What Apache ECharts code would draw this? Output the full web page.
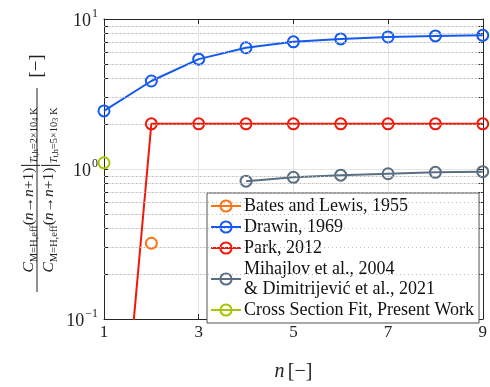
<!DOCTYPE html>
<html><head><meta charset="utf-8">
<script src="https://cdn.jsdelivr.net/npm/echarts@6/dist/echarts.min.js"></script>
<style>html,body{margin:0;padding:0;background:#fff}#c{width:490px;height:387px}</style>
</head><body><div id="c"></div>
<script>
// ---- data ----
const nValues = [1, 2, 3, 4, 5, 6, 7, 8, 9];
const batesN = [2];
const batesVals = [0.32];
const drawinVals = [2.44, 3.86, 5.40, 6.43, 7.04, 7.37, 7.59, 7.71, 7.78];
const parkVals = [0.0006, 2.0, 2.0, 2.0, 2.0, 2.0, 2.0, 2.0, 2.0];
const mihajlovN = [4, 5, 6, 7, 8, 9];
const mihajlovVals = [0.83, 0.88, 0.91, 0.93, 0.95, 0.96];
const fitN = [1];
const fitVals = [1.10];
const xTicks = [1, 3, 5, 7, 9];
const yTickValues = [0.1, 1, 10];
const yTickExponents = ['\u22121', '0', '1'];
const yMinorValues = [0.2, 0.3, 0.4, 0.5, 0.6, 0.7, 0.8, 0.9, 2, 3, 4, 5, 6, 7, 8, 9];
const names = ['Bates and Lewis, 1955', 'Drawin, 1969', 'Park, 2012',
  'Mihajlov et al., 2004\n& Dimitrijevi\u0107 et al., 2021', 'Cross Section Fit, Present Work'];
const colors = ['#FF7214', '#1459F0', '#F01A0A', '#5A6E82', '#A8C400'];

const zip = (xs, ys) => xs.map((x, i) => [x, ys[i]]);
const SERIF = '"Liberation Serif","DejaVu Serif",serif';
const AX = '#262626';

function mk(name, color, data, z) {
  return {
    name, type: 'line', data, z,
    symbol: 'circle', symbolSize: 11, showSymbol: true,
    lineStyle: { color, width: 2 },
    itemStyle: { color: 'rgba(255,255,255,0)', borderColor: color, borderWidth: 2 },
    clip: true, animation: false, emphasis: { disabled: true }
  };
}

const chart = echarts.init(document.getElementById('c'), null, { renderer: 'canvas' });

const yAxisBase = {
  type: 'log', min: 0.1, max: 10, logBase: 10,
  axisLine: { show: true, lineStyle: { color: AX, width: 1 } },
  axisTick: { show: true, inside: true, length: 4, lineStyle: { color: AX },
    customValues: yTickValues.concat(yMinorValues) },
  minorTick: { show: false },
  splitLine: { show: false }
};

const option = {
  animation: false,
  backgroundColor: '#fff',
  grid: { left: 104, right: 2, top: 19, bottom: 62, containLabel: false },
  xAxis: [{
    type: 'value', min: 1, max: 9, interval: 2,
    axisLine: { show: true, onZero: false, lineStyle: { color: AX, width: 1 } },
    axisTick: { show: true, inside: true, length: 5, lineStyle: { color: AX } },
    axisLabel: { color: '#222', fontFamily: SERIF, fontSize: 17, margin: 5,
      formatter: v => xTicks.includes(v) ? String(v) : '' },
    splitLine: { show: true, lineStyle: { color: '#e3e3e3', width: 1 } },
    name: '{i|n} {r|[\u2212]}', nameLocation: 'middle', nameGap: 43,
    nameTextStyle: { rich: {
      i: { fontFamily: SERIF, fontStyle: 'italic', fontSize: 20, color: '#222' },
      r: { fontFamily: SERIF, fontSize: 20, color: '#222' } } }
  }, {
    type: 'value', min: 1, max: 9, interval: 2, position: 'top',
    axisLine: { show: true, onZero: false, lineStyle: { color: AX, width: 1 } },
    axisTick: { show: true, inside: true, length: 5, lineStyle: { color: AX } },
    axisLabel: { show: false }, splitLine: { show: false }
  }],
  yAxis: [Object.assign({}, yAxisBase, {
    position: 'left',
    splitLine: { show: true, lineStyle: { color: '#e3e3e3', width: 1 } },
    axisLabel: {
      margin: 6,
      formatter: v => {
        const i = yTickValues.findIndex(t => Math.abs(t - v) < 1e-9);
        return i < 0 ? '' : '{b|10}{s|' + yTickExponents[i] + '}';
      },
      rich: {
        b: { fontFamily: SERIF, fontSize: 18, color: '#222', lineHeight: 22, verticalAlign: 'bottom' },
        s: { fontFamily: SERIF, fontSize: 12, color: '#222', lineHeight: 22, verticalAlign: 'top', padding: [0, 0, 0, 1] }
      }
    }
  }), Object.assign({}, yAxisBase, {
    position: 'right', axisLabel: { show: false }
  })],
  legend: {
    data: names, orient: 'vertical', left: 207, top: 193,
    padding: [3, 5, 3, 3], itemGap: 1, itemWidth: 30, itemHeight: 14,
    backgroundColor: '#fff', borderColor: '#555', borderWidth: 1, borderRadius: 0,
    textStyle: { fontFamily: SERIF, fontSize: 18, color: '#111', lineHeight: 20, padding: [0, 0, 0, -2] },
    selectedMode: false
  },
  series: [
    {
      name: 'minor', type: 'line', data: [], silent: true, z: 0,
      markLine: {
        silent: true, symbol: ['none', 'none'], animation: false,
        label: { show: false },
        lineStyle: { color: '#bdbdbd', width: 1, type: [1, 3] },
        emphasis: { disabled: true },
        data: yMinorValues.map(v => ({ yAxis: v }))
      }
    },
    mk(names[3], colors[3], zip(mihajlovN, mihajlovVals), 2),
    mk(names[2], colors[2], zip(nValues, parkVals), 3),
    mk(names[1], colors[1], zip(nValues, drawinVals), 4),
    mk(names[0], colors[0], zip(batesN, batesVals), 5),
    mk(names[4], colors[4], zip(fitN, fitVals), 6)
  ],
  graphic: [{
    type: 'group', x: 37, y: 190, rotation: Math.PI / 2,
    children: [
      { type: 'text', x: 0, y: -8, style: {
          text: '{C|C}{s|M=H,eff}{r|(}{i|n}{r|\u2192}{i|n}{r|+1)}{bar||}{st|T}{ss|t,h}{s|=2\u00d710}{sp|4}{s| K}',
          align: 'center', verticalAlign: 'middle', fill: '#222',
          rich: null } },
      { type: 'line', shape: { x1: -102, y1: 0, x2: 102, y2: 0 }, style: { stroke: '#222', lineWidth: 1 } },
      { type: 'text', x: 0, y: 12, style: {
          text: '{C|C}{s|M=H,eff}{r|(}{i|n}{r|\u2192}{i|n}{r|+1)}{bar||}{st|T}{ss|t,h}{s|=5\u00d710}{sp|3}{s| K}',
          align: 'center', verticalAlign: 'middle', fill: '#222',
          rich: null } },
      { type: 'text', x: 124, y: 0, style: {
          text: '[\u2212]', align: 'center', verticalAlign: 'middle', fill: '#222',
          font: '19px ' + SERIF } }
    ]
  }]
};

const yRich = {
  C: { fontFamily: SERIF, fontStyle: 'italic', fontSize: 15.5, lineHeight: 22, verticalAlign: 'middle' },
  i: { fontFamily: SERIF, fontStyle: 'italic', fontSize: 15.5, lineHeight: 22, verticalAlign: 'middle' },
  r: { fontFamily: SERIF, fontSize: 15.5, lineHeight: 22, verticalAlign: 'middle' },
  bar: { fontFamily: SERIF, fontSize: 21, lineHeight: 22, verticalAlign: 'middle' },
  s: { fontFamily: SERIF, fontSize: 10.5, lineHeight: 10, verticalAlign: 'bottom' },
  st: { fontFamily: SERIF, fontStyle: 'italic', fontSize: 10.5, lineHeight: 10, verticalAlign: 'bottom' },
  ss: { fontFamily: SERIF, fontSize: 8, lineHeight: 5, verticalAlign: 'bottom' },
  sp: { fontFamily: SERIF, fontSize: 8, lineHeight: 18, verticalAlign: 'bottom' }
};
option.graphic[0].children[0].style.rich = yRich;
option.graphic[0].children[2].style.rich = yRich;

chart.setOption(option);
</script></body></html>
